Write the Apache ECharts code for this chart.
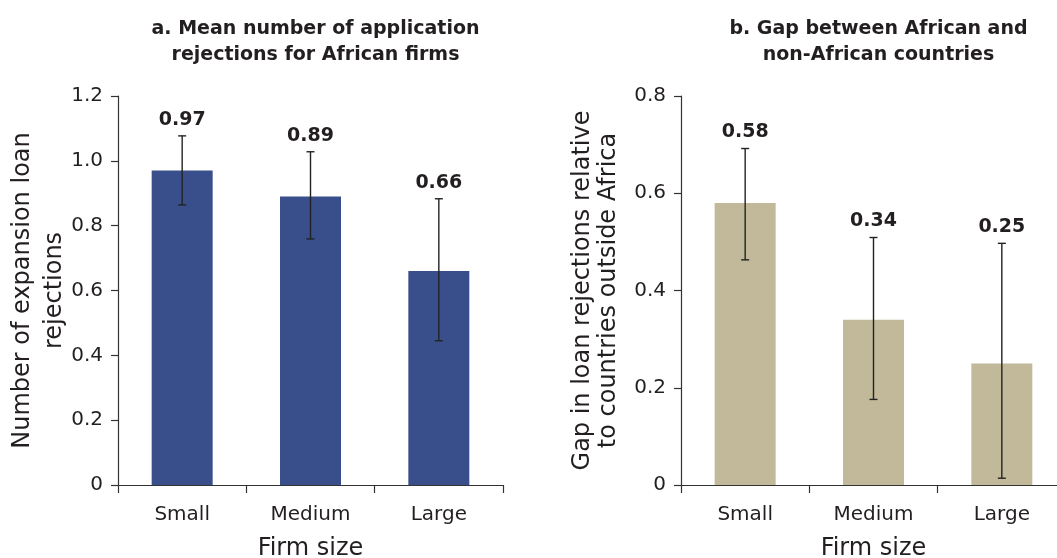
<!DOCTYPE html>
<html>
<head>
<meta charset="utf-8">
<script src="https://cdn.jsdelivr.net/npm/echarts@6/dist/echarts.min.js"></script>
<style>html,body{margin:0;padding:0;background:#fff}#c{width:1057px;height:558px}</style>
</head>
<body>
<div id="c"></div>
<script>
const categories = ['Small', 'Medium', 'Large'];
const leftValues = [0.97, 0.89, 0.66];
const leftLow = [0.864, 0.759, 0.445];
const leftHigh = [1.077, 1.028, 0.883];
const rightValues = [0.58, 0.34, 0.25];
const rightLow = [0.463, 0.176, 0.014];
const rightHigh = [0.692, 0.509, 0.497];
const leftTickLabels = ['0', '0.2', '0.4', '0.6', '0.8', '1.0', '1.2'];
const rightTickLabels = ['0', '0.2', '0.4', '0.6', '0.8'];
const leftTitle = 'a. Mean number of application\nrejections for African firms';
const rightTitle = 'b. Gap between African and\nnon-African countries';
const leftYName = 'Number of expansion loan\nrejections';
const rightYName = 'Gap in loan rejections relative\nto countries outside Africa';
const xName = 'Firm size';

const FONT = 'DejaVu Sans';
const TXT = '#231f20';

function errData(values, low, high) {
  return categories.map((c, i) => [i, low[i], high[i], values[i]]);
}
function errRender(params, api) {
  const x = api.value(0);
  const top = api.coord([x, api.value(2)]);
  const bot = api.coord([x, api.value(1)]);
  const cap = 4;
  const style = { stroke: '#222', lineWidth: 1.4 };
  return {
    type: 'group',
    children: [
      { type: 'line', shape: { x1: top[0], y1: top[1], x2: bot[0], y2: bot[1] }, style },
      { type: 'line', shape: { x1: top[0] - cap, y1: top[1], x2: top[0] + cap, y2: top[1] }, style },
      { type: 'line', shape: { x1: bot[0] - cap, y1: bot[1], x2: bot[0] + cap, y2: bot[1] }, style },
      { type: 'text', x: top[0], y: top[1] - 16,
        style: { text: api.value(3).toFixed(2), fill: TXT, font: 'bold 19px "' + FONT + '"', align: 'center', verticalAlign: 'middle' } }
    ]
  };
}

function yAxis(gi, max, labels, name, nameGap, lh) {
  return {
    type: 'value', gridIndex: gi, min: 0, max: max, interval: 0.2,
    splitLine: { show: false },
    axisLine: { show: true, lineStyle: { color: '#333', width: 1.2 } },
    axisTick: { show: true, length: 7, lineStyle: { color: '#333', width: 1.2 } },
    axisLabel: { margin: 15, color: TXT, fontSize: 20, fontFamily: FONT,
      formatter: v => labels[Math.round(v / 0.2)] },
    name: name, nameLocation: 'middle', nameGap: nameGap, nameMoveOverlap: false,
    nameTextStyle: { color: TXT, fontSize: 24, fontFamily: FONT, lineHeight: lh }
  };
}
function xAxis(gi) {
  return {
    type: 'category', gridIndex: gi, data: categories,
    axisLine: { show: true, lineStyle: { color: '#333', width: 1.2 } },
    axisTick: { show: true, length: 8, alignWithLabel: false, lineStyle: { color: '#333', width: 1.2 } },
    axisLabel: { margin: 20, color: TXT, fontSize: 20, fontFamily: FONT },
    name: xName, nameLocation: 'middle', nameGap: 52,
    nameTextStyle: { color: TXT, fontSize: 24, fontFamily: FONT }
  };
}

const chart = echarts.init(document.getElementById('c'), null, { renderer: 'canvas' });
chart.setOption({
  animation: false,
  backgroundColor: '#fff',
  title: [
    { text: leftTitle, left: 310.5, top: 11, textAlign: 'center',
      textStyle: { fontFamily: FONT, fontWeight: 'bold', fontSize: 19, lineHeight: 26, color: TXT } },
    { text: rightTitle, left: 873.5, top: 11, textAlign: 'center',
      textStyle: { fontFamily: FONT, fontWeight: 'bold', fontSize: 19, lineHeight: 26, color: TXT } }
  ],
  grid: [
    { left: 118, top: 96, width: 385, height: 389, outerBoundsMode: 'none', containLabel: false },
    { left: 681, top: 96, width: 385, height: 389, outerBoundsMode: 'none', containLabel: false }
  ],
  xAxis: [xAxis(0), xAxis(1)],
  yAxis: [
    yAxis(0, 1.2, leftTickLabels, leftYName, 47, 32),
    yAxis(1, 0.8, rightTickLabels, rightYName, 59, 26)
  ],
  series: [
    { type: 'bar', xAxisIndex: 0, yAxisIndex: 0, data: leftValues, barWidth: 61,
      itemStyle: { color: '#394f8b' } },
    { type: 'bar', xAxisIndex: 1, yAxisIndex: 1, data: rightValues, barWidth: 61,
      itemStyle: { color: '#c2b99b' } },
    { type: 'custom', xAxisIndex: 0, yAxisIndex: 0, data: errData(leftValues, leftLow, leftHigh),
      renderItem: errRender, z: 5 },
    { type: 'custom', xAxisIndex: 1, yAxisIndex: 1, data: errData(rightValues, rightLow, rightHigh),
      renderItem: errRender, z: 5 }
  ]
});
</script>
</body>
</html>
